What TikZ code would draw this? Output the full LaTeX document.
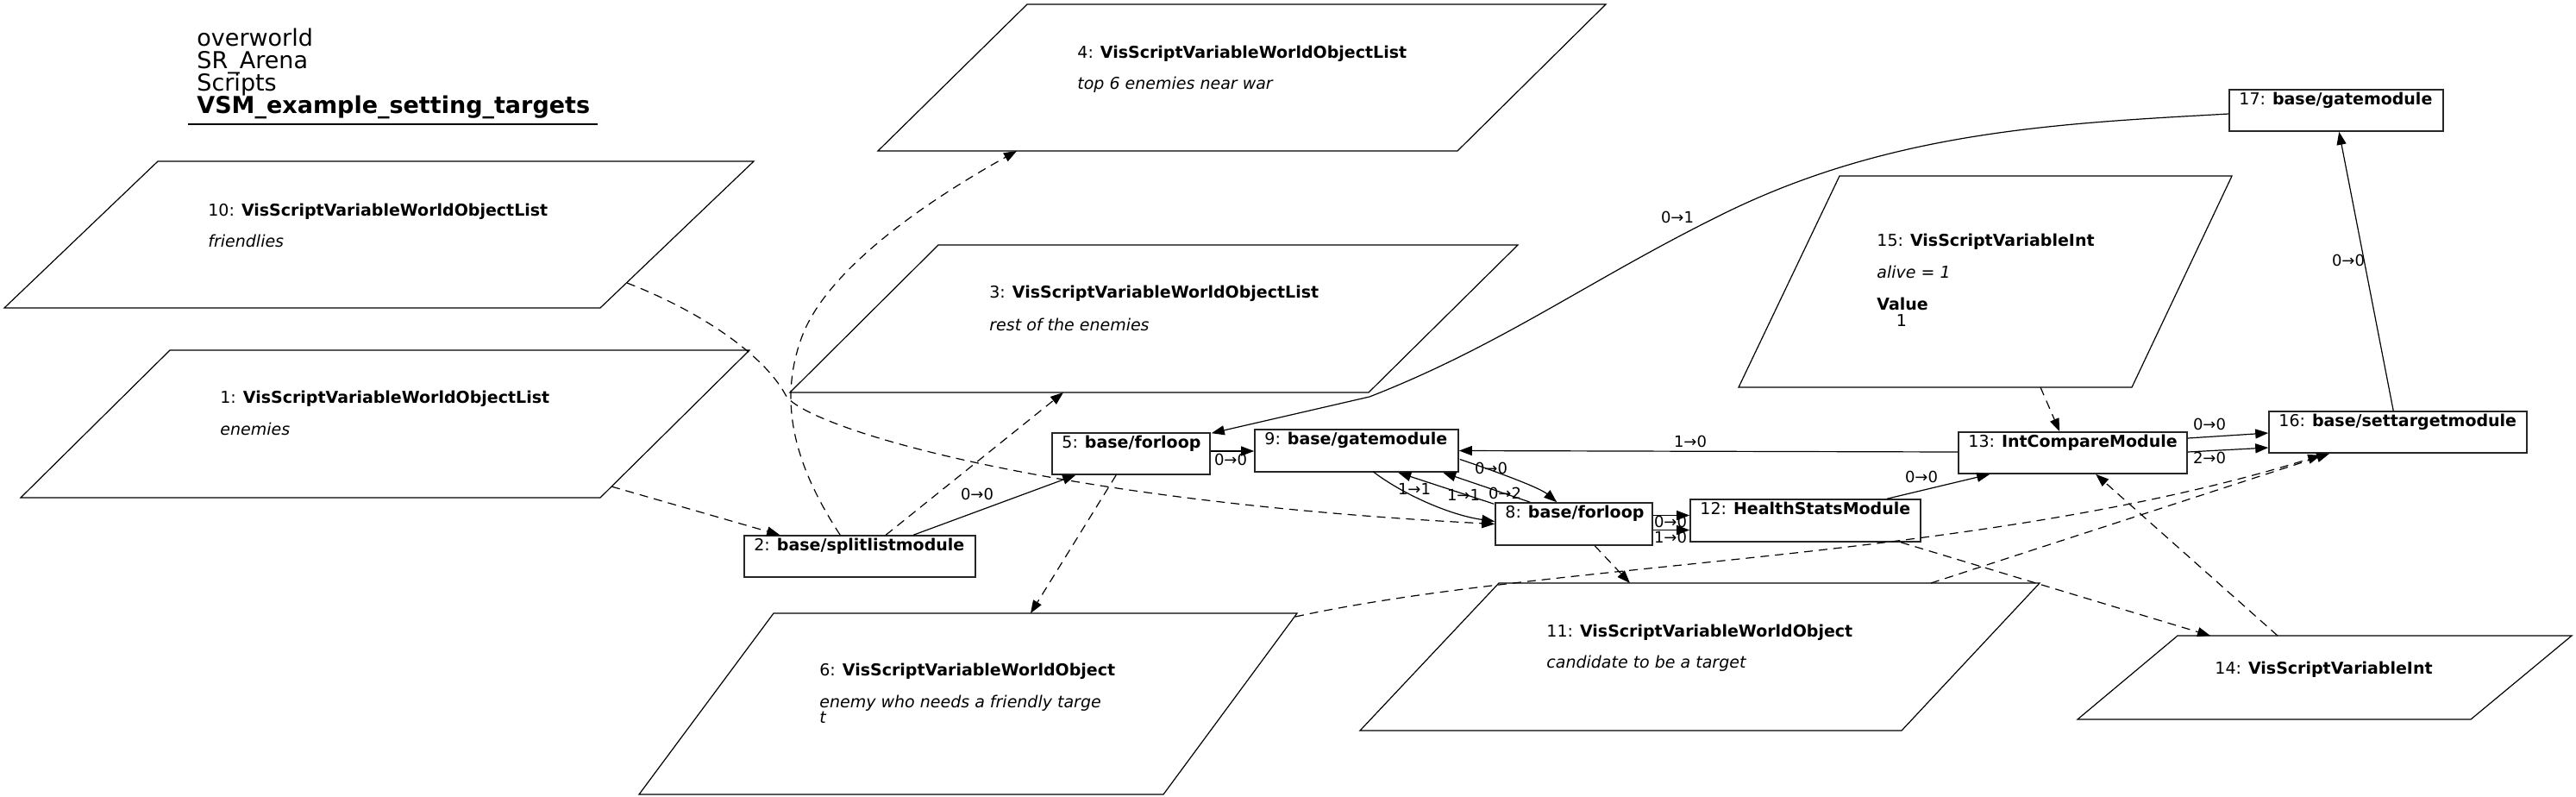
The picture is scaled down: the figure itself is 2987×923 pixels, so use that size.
\documentclass[tikz,border=0pt]{standalone}
\usepackage{fontspec}
\setmainfont{DejaVu Sans}
\usetikzlibrary{arrows.meta,calc}
\newcommand\nfont{\fontsize{9.5}{11}\selectfont}
\newcommand\lfont{\fontsize{9}{10}\selectfont}
\newcommand\ttfont{\fontsize{13.5}{13}\selectfont}
\begin{document}
\begin{tikzpicture}[x=0.5pt,y=-0.5pt,
  box/.style={draw=black!85, line width=0.8pt, rectangle, inner sep=0pt},
  para/.style={draw=black, line width=0.6pt},
  txt/.style={anchor=base west, inner sep=0pt, font=\nfont},
  elab/.style={inner sep=0pt, font=\lfont},
  link/.style={line width=0.6pt, -{Triangle[length=7.5pt,width=5.5pt]}},
  dlink/.style={link, dash pattern=on 5pt off 3.5pt},
  ttl/.style={anchor=base west, inner sep=0pt, font=\ttfont}]
\useasboundingbox (0,0) rectangle (2987,923);

% title
\node[ttl] (h1) at (228,53) {overworld};
\node[ttl] (h2) at (228,79) {SR\_Arena};
\node[ttl] (h3) at (228,105) {Scripts};
\node[ttl] (h4) at (228,131) {\textbf{VSM\_example\_setting\_targets}};
\draw[line width=0.7pt] (218,144) -- (693,144);

% parallelograms
\draw[para] (183,187) -- (874,187) -- (696,357) -- (5,357) -- cycle;
\draw[para] (197,406) -- (869,406) -- (696,577) -- (24,577) -- cycle;
\draw[para] (1191,5) -- (1862,5) -- (1690,175) -- (1018,175) -- cycle;
\draw[para] (1088,284) -- (1760,284) -- (1587,455) -- (916,455) -- cycle;
\draw[para] (897,711) -- (1504,711) -- (1349,921) -- (741,921) -- cycle;
\draw[para] (1738,676) -- (2365,676) -- (2205,847) -- (1577,847) -- cycle;
\draw[para] (2133,204) -- (2588,204) -- (2472,449) -- (2016,449) -- cycle;
\draw[para] (2525,737) -- (2982,737) -- (2865,834) -- (2409,834) -- cycle;

\node[txt] (t10) at (241,250) {10: \textbf{VisScriptVariableWorldObjectList}};
\node[txt] (t10b) at (241,286) {\itshape friendlies};
\node[txt] (t1) at (255,467) {1: \textbf{VisScriptVariableWorldObjectList}};
\node[txt] (t1b) at (255,504) {\itshape enemies};
\node[txt] (t4) at (1249,67) {4: \textbf{VisScriptVariableWorldObjectList}};
\node[txt] (t4b) at (1249,103) {\itshape top 6 enemies near war};
\node[txt] (t3) at (1147,345) {3: \textbf{VisScriptVariableWorldObjectList}};
\node[txt] (t3b) at (1147,383) {\itshape rest of the enemies};
\node[txt] (t6) at (950,783) {6: \textbf{VisScriptVariableWorldObject}};
\node[txt] (t6b) at (950,820) {\itshape enemy who needs a friendly targe};
\node[txt] (t6c) at (950,838) {\itshape t};
\node[txt] (t11) at (1793,738) {11: \textbf{VisScriptVariableWorldObject}};
\node[txt] (t11b) at (1793,774) {\itshape candidate to be a target};
\node[txt] (t15) at (2176,285) {15: \textbf{VisScriptVariableInt}};
\node[txt] (t15b) at (2176,322) {\itshape alive = 1};
\node[txt] (t15c) at (2176,359) {\textbf{Value}};
\node[txt, anchor=base] (t15d) at (2205,378) {1};
\node[txt] (t14) at (2568,781) {14: \textbf{VisScriptVariableInt}};

% boxes
\node[box, minimum width=134pt, minimum height=24pt] (n2) at (997,645) {};
\node[box, minimum width=91.5pt, minimum height=24pt] (n5) at (1311.5,526) {};
\node[box, minimum width=118pt, minimum height=24.5pt] (n9) at (1573,522.5) {};
\node[box, minimum width=91pt, minimum height=24.5pt] (n8) at (1825,607.5) {};
\node[box, minimum width=133.5pt, minimum height=24.5pt] (n12) at (2093.5,603.5) {};
\node[box, minimum width=132.5pt, minimum height=24pt] (n13) at (2403.5,525) {};
\node[box, minimum width=149.5pt, minimum height=24pt] (n16) at (2780.5,501) {};
\node[box, minimum width=124pt, minimum height=24pt] (n17) at (2709,128) {};

\node[txt] (b2) at (874,638.5) {2: \textbf{base/splitlistmodule}};
\node[txt] (b5) at (1231,519.5) {5: \textbf{base/forloop}};
\node[txt] (b9) at (1466,515.5) {9: \textbf{base/gatemodule}};
\node[txt] (b8) at (1745,600.5) {8: \textbf{base/forloop}};
\node[txt] (b12) at (1971,596.5) {12: \textbf{HealthStatsModule}};
\node[txt] (b13) at (2282,518.5) {13: \textbf{IntCompareModule}};
\node[txt] (b16) at (2642,494.5) {16: \textbf{base/settargetmodule}};
\node[txt] (b17) at (2596,121.5) {17: \textbf{base/gatemodule}};

% attachment points on parallelograms
\coordinate (p1o) at (709,564);
\coordinate (p10o) at (727,328);
\coordinate (p4i) at (1179,175);
\coordinate (p3i) at (1233,455);
\coordinate (p6i) at (1195,711);
\coordinate (p6o) at (1502,715);
\coordinate (p11i) at (1890,676);
\coordinate (p11o) at (2239,676);
\coordinate (p15o) at (2366,449);
\coordinate (p14i) at (2563,737);
\coordinate (p14o) at (2641,737);

% connectors
\draw[dlink] (p1o) -- ($(n2.north west)+(42,0)$);
\draw[dlink] ($(n2.north west)+(112,0)$) .. controls (925,545) and (900,470) .. (930,390) .. controls (960,310) and (1080,230) .. (p4i);
\draw[dlink] ($(n2.north west)+(165,0)$) -- (p3i);
\draw[link] ($(n2.north west)+(197,0)$) -- ($(n5.south west)+(28,0)$);
\draw[link] ($(n5.east)+(0,-3)$) -- ($(n9.west)+(0,0.5)$);
\draw[dlink] ($(n5.south west)+(75,0)$) -- (p6i);
\draw[link] ($(n17.west)+(0,4)$) .. controls (2389,143) and (2195,151.5) .. (2000,247) .. controls (1845,323) and (1743,399.5) .. (1588,460) -- ($(n5.north east)+(1,1)$);
\draw[dlink] (p10o) .. controls (810,360) and (885,410) .. (911,458) .. controls (930,493) and (1200,580) .. (n8.west);
\draw[link] ($(n9.east)+(1,10)$) .. controls (1730,545) and (1785,565) .. ($(n8.north west)+(72,0)$);
\draw[link] ($(n8.north west)+(41,0)$) -- ($(n9.south west)+(219,0)$);
\draw[link] ($(n8.north west)+(-1,2)$) -- ($(n9.south west)+(167,0)$);
\draw[link] ($(n9.south west)+(138,-1)$) .. controls (1625,572) and (1680,597) .. ($(n8.west)+(0,-3)$);
\draw[link] ($(n8.east)+(0,-10)$) -- ($(n12.west)+(0,-6)$);
\draw[link] ($(n8.east)+(0,7)$) -- ($(n12.west)+(0,11)$);
\draw[dlink] ($(n8.south west)+(116,0)$) -- (p11i);
\draw[link] ($(n12.north west)+(229,0)$) -- ($(n13.south west)+(37,0)$);
\draw[link] ($(n13.west)+(0,-1)$) -- (n9.east);
\draw[link] ($(n13.east)+(0,-17)$) -- ($(n16.west)+(0,1)$);
\draw[link] ($(n13.east)+(0,-1)$) -- ($(n16.west)+(0,18)$);
\draw[link] ($(n16.north west)+(145,0)$) -- ($(n17.south west)+(128,0)$);
\draw[dlink] (p15o) -- ($(n13.north west)+(118,0)$);
\draw[dlink] (p14o) -- ($(n13.south west)+(160,0)$);
\draw[dlink] ($(n12.south west)+(245,0)$) -- (p14i);
\draw[dlink] (p6o) .. controls (1800,650) and (2300,650) .. ($(n16.south west)+(61,2)$);
\draw[dlink] (p11o) -- ($(n16.south west)+(71,0)$);

% connector labels
\node[elab] (l1) at (1133,573) {0→0};
\node[elab] (l2) at (1427,533) {0→0};
\node[elab] (l3) at (1945,252) {0→1};
\node[elab] (l4) at (1729,543) {0→0};
\node[elab] (l5) at (1745,572) {0→2};
\node[elab] (l6) at (1697,574) {1→1};
\node[elab] (l7) at (1640,567) {1→1};
\node[elab] (l8) at (1937,605) {0→0};
\node[elab] (l9) at (1937,623) {1→0};
\node[elab] (l10) at (2228,553) {0→0};
\node[elab] (l11) at (1960,512) {1→0};
\node[elab] (l12) at (2562,492) {0→0};
\node[elab] (l13) at (2562,531) {2→0};
\node[elab] (l14) at (2723,302) {0→0};
\end{tikzpicture}
\end{document}
